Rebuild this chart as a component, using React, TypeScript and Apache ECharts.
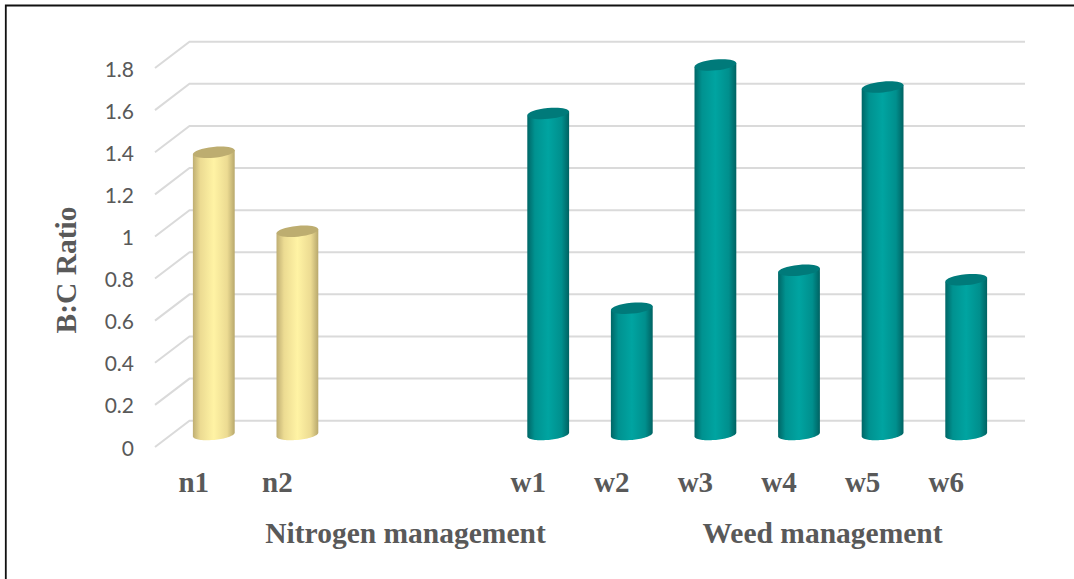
import React, { useEffect, useRef } from "react";
import * as echarts from "echarts";

const categories = ["n1", "n2", "", "", "w1", "w2", "w3", "w4", "w5", "w6"];
const barValues = [1.34, 0.965, null, null, 1.525, 0.6, 1.755, 0.78, 1.65, 0.735];
const barGroups = [0, 0, 0, 0, 1, 1, 1, 1, 1, 1];
const yTicks = [0, 0.2, 0.4, 0.6, 0.8, 1, 1.2, 1.4, 1.6, 1.8];
const sideColors = [
  ["#bfae72", "#ecdb92", "#fff3a4", "#ecdb92", "#b8a86c"],
  ["#006666", "#009290", "#00a4a1", "#008f8d", "#006262"],
];
const capColors = ["#bdad70", "#007a7a"];

const BACK_DX = 34.5;
const BACK_DY = -26.3;
const MID_DX = 17;
const MID_DY = -12.5;
const RX = 21;
const RY = 5.4;
const TILT = (5.5 * Math.PI) / 180;

function renderGrid(params: any, api: any) {
  const value = api.value(0);
  const front = api.coord([0, value]);
  const cs = params.coordSys;
  const left = cs.x;
  const y = front[1];
  return {
    type: "polyline",
    shape: {
      points: [
        [left, y],
        [left + BACK_DX, y + BACK_DY],
        [left + cs.width + BACK_DX - 0.5, y + BACK_DY],
      ],
    },
    style: { stroke: "#dadada", lineWidth: 2, fill: "none" },
    silent: true,
  };
}

function renderBar(params: any, api: any) {
  const idx = api.value(0);
  const val = api.value(1);
  if (val == null || isNaN(val)) return null;
  const top = api.coord([idx, val]);
  const base = api.coord([idx, 0]);
  const cx = top[0] + MID_DX;
  const ty = top[1] + MID_DY;
  const by = base[1] + MID_DY;
  const group = barGroups[idx];
  const c = Math.cos(TILT);
  const s = Math.sin(TILT);
  const pts: number[][] = [];
  pts.push([cx - RX * c, ty + RX * s]);
  const n = 40;
  for (let i = 0; i <= n; i++) {
    const t = Math.PI - (Math.PI * i) / n;
    // lower half of the tilted ellipse at the base
    const ex = RX * Math.cos(t);
    const ey = RY * Math.sin(t);
    pts.push([cx + ex * c + ey * s, by - ex * s + ey * c]);
  }
  pts.push([cx + RX * c, ty - RX * s]);
  const cols = sideColors[group];
  return {
    type: "group",
    children: [
      {
        type: "polygon",
        shape: { points: pts },
        style: {
          fill: new echarts.graphic.LinearGradient(0, 0, 1, 0, [
            { offset: 0, color: cols[0] },
            { offset: 0.18, color: cols[1] },
            { offset: 0.5, color: cols[2] },
            { offset: 0.82, color: cols[3] },
            { offset: 1, color: cols[4] },
          ]),
        },
      },
      {
        type: "ellipse",
        x: cx,
        y: ty,
        rotation: TILT,
        shape: { cx: 0, cy: 0, rx: RX, ry: RY },
        style: { fill: capColors[group] },
      },
    ],
  };
}

export default function App() {
  const ref = useRef<HTMLDivElement>(null);
  useEffect(() => {
    const chart = echarts.init(ref.current!, null, { renderer: "svg" });
    const serif = "'Liberation Serif', 'Times New Roman', serif";
    chart.setOption({
      animation: false,
      backgroundColor: "#ffffff",
      grid: { left: 155, top: 68, width: 836, height: 379, containLabel: false },
      xAxis: {
        type: "category",
        data: categories,
        axisLine: { show: false },
        axisTick: { show: false },
        splitLine: { show: false },
        axisLabel: {
          interval: 0,
          margin: 20,
          color: "#595959",
          fontFamily: serif,
          fontWeight: "bold",
          fontSize: 29,
          padding: [0, 6, 0, 0],
        },
      },
      yAxis: {
        type: "value",
        min: 0,
        max: 1.8,
        interval: 0.2,
        axisLine: { show: false },
        axisTick: { show: false },
        splitLine: { show: false },
        axisLabel: {
          margin: 21,
          color: "#595959",
          fontFamily: "Lato, 'Open Sans', sans-serif",
          fontSize: 21,
          formatter: (v: number) => String(Number(v.toFixed(1))),
        },
      },
      series: [
        {
          type: "custom",
          coordinateSystem: "cartesian2d",
          renderItem: renderGrid,
          encode: { y: 0 },
          data: yTicks.map((v) => [v]),
          z: 1,
          silent: true,
        },
        {
          type: "custom",
          coordinateSystem: "cartesian2d",
          renderItem: renderBar,
          encode: { x: 0, y: 1 },
          data: barValues.map((v, i) => [i, v]),
          z: 2,
          silent: true,
        },
      ],
      graphic: [
        {
          type: "polyline",
          shape: { points: [[5.8, 579], [5.8, 5.5], [1074, 5.5]] },
          style: { stroke: "#111111", lineWidth: 1.8, fill: "none" },
          silent: true,
        },
        {
          type: "text",
          x: 66,
          y: 270,
          rotation: Math.PI / 2,
          style: {
            text: "B:C Ratio",
            font: `bold 29.5px ${serif}`,
            fill: "#595959",
            textAlign: "center",
            textVerticalAlign: "middle",
          },
        },
        {
          type: "text",
          x: 405.5,
          y: 533,
          style: {
            text: "Nitrogen management",
            font: `bold 29.5px ${serif}`,
            fill: "#595959",
            textAlign: "center",
            textVerticalAlign: "middle",
          },
        },
        {
          type: "text",
          x: 822.5,
          y: 533,
          style: {
            text: "Weed management",
            font: `bold 29.5px ${serif}`,
            fill: "#595959",
            textAlign: "center",
            textVerticalAlign: "middle",
          },
        },
      ],
    });
    return () => chart.dispose();
  }, []);
  return (
    <div
      ref={ref}
      style={{ position: "absolute", left: 0, top: 0, width: 1074, height: 579 }}
    />
  );
}
